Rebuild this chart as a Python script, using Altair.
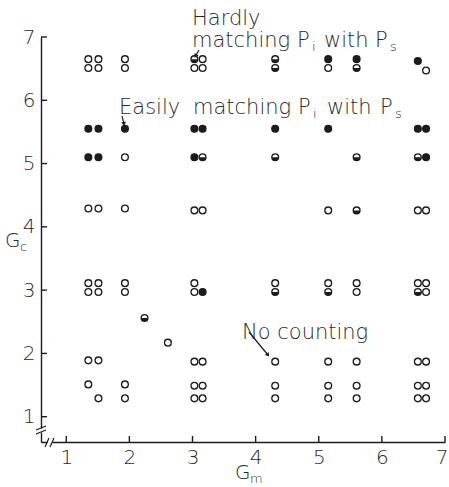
import altair as alt
import pandas as pd

# ---------------- data ----------------
# x position (Gm) of each column of symbols
col_gm = [1.35, 1.51, 1.93, 2.24, 2.61, 3.03, 3.16, 4.31, 5.15, 5.60, 6.57, 6.70]
# Gc values of the symbols in each column
col_gc = [
    [6.65, 6.51, 5.55, 5.10, 4.29, 3.11, 2.97, 1.89, 1.51],
    [6.65, 6.51, 5.55, 5.10, 4.29, 3.11, 2.97, 1.89, 1.29],
    [6.65, 6.51, 5.55, 5.10, 4.29, 3.11, 2.97, 1.51, 1.29],
    [2.56],
    [2.17],
    [6.65, 6.51, 5.55, 5.10, 4.26, 3.11, 2.97, 1.87, 1.49, 1.29],
    [6.65, 6.51, 5.55, 5.10, 4.26, 2.97, 1.87, 1.49, 1.29],
    [6.65, 6.51, 5.55, 5.10, 3.11, 2.97, 1.87, 1.49, 1.29],
    [6.65, 6.51, 5.55, 4.26, 3.11, 2.97, 1.87, 1.49, 1.29],
    [6.65, 6.51, 5.10, 4.26, 3.11, 2.97, 1.87, 1.49, 1.29],
    [6.62, 5.55, 5.10, 4.26, 3.11, 2.97, 1.87, 1.49, 1.29],
    [6.47, 5.55, 5.10, 4.26, 3.11, 2.97, 1.87, 1.49, 1.29],
]
# o = no counting (open), h = hardly matching (half), f = easily matching (filled)
col_kind = [
    ["o", "o", "f", "f", "o", "o", "o", "o", "o"],
    ["o", "o", "f", "f", "o", "o", "o", "o", "o"],
    ["o", "o", "f", "o", "o", "o", "o", "o", "o"],
    ["h"],
    ["o"],
    ["h", "o", "f", "f", "o", "o", "o", "o", "o", "o"],
    ["o", "o", "f", "h", "o", "f", "o", "o", "o"],
    ["h", "h", "f", "h", "o", "h", "o", "o", "o"],
    ["f", "o", "f", "o", "o", "h", "o", "o", "o"],
    ["f", "h", "h", "h", "o", "o", "o", "o", "o"],
    ["f", "f", "h", "o", "o", "h", "o", "o", "o"],
    ["o", "f", "f", "o", "o", "o", "o", "o", "o"],
]
tick_vals = [1, 2, 3, 4, 5, 6, 7]

rows = []
for x, ys_, ks in zip(col_gm, col_gc, col_kind):
    for y, k in zip(ys_, ks):
        rows.append({"Gm": x, "Gc": y, "kind": k})
df = pd.DataFrame(rows)

# ---------------- styling ----------------
FONT = "DejaVu Sans"
WEIGHT = 200
INK = "#1c1c1c"
TXT = "#2a2a2a"
OX, OY = 41, 37          # plot-area origin inside the window
W, H = 404, 405

xs = alt.Scale(domain=[0.6, 7.0], nice=False, zero=False)
ys = alt.Scale(domain=[0.6, 7.0], nice=False, zero=False)

xaxis = alt.Axis(values=tick_vals, title=None, ticks=False, grid=False,
                 domainColor=INK, domainWidth=1.4, labelFont=FONT,
                 labelFontWeight=WEIGHT,
                 labelFontSize=20, labelColor=TXT, labelPadding=5,
                 labelFlush=True, labelFlushOffset=3,
                 labelOverlap=False, format="d")
yaxis = alt.Axis(values=tick_vals, title=None, ticks=False, grid=False,
                 domainColor=INK, domainWidth=1.4, labelFont=FONT,
                 labelFontWeight=WEIGHT,
                 labelFontSize=20, labelColor=TXT, labelPadding=6,
                 labelFlush=False, labelOverlap=False, format="d")

base = alt.Chart(df).encode(
    x=alt.X("Gm:Q", scale=xs, axis=xaxis),
    y=alt.Y("Gc:Q", scale=ys, axis=yaxis),
)

circles = base.mark_point(shape="circle", filled=True, size=46, stroke=INK,
                          strokeWidth=1.3, opacity=1).encode(
    fill=alt.Fill("kind:N", scale=alt.Scale(domain=["o", "h", "f"],
                                            range=["white", "white", INK]),
                  legend=None)
)
halves = base.transform_filter(alt.datum.kind == "h").mark_point(
    shape="M -1 0 A 1 1 0 0 0 1 0 Z", filled=True, fill=INK, size=46,
    strokeWidth=0, opacity=1)

xticks = alt.Chart(pd.DataFrame({"Gm": tick_vals})).mark_rule(
    color=INK, strokeWidth=1.4).encode(
    x=alt.X("Gm:Q", scale=xs, axis=xaxis), y=alt.value(H), y2=alt.value(H - 6))
yticks = alt.Chart(pd.DataFrame({"Gc": tick_vals})).mark_rule(
    color=INK, strokeWidth=1.4).encode(
    y=alt.Y("Gc:Q", scale=ys, axis=yaxis), x=alt.value(0), x2=alt.value(6))

anchor = pd.DataFrame({"a": [0]})


def txt(s, px, py, size=21, align="left"):
    return alt.Chart(anchor).mark_text(
        text=s, font=FONT, fontSize=size, fontWeight=WEIGHT, color=TXT,
        align=align, baseline="alphabetic").encode(
        x=alt.value(px - OX), y=alt.value(py - OY))


def seg(x1, y1, x2, y2, color=INK, width=1.2):
    return alt.Chart(anchor).mark_rule(color=color, strokeWidth=width).encode(
        x=alt.value(x1 - OX), y=alt.value(y1 - OY),
        x2=alt.value(x2 - OX), y2=alt.value(y2 - OY))


def head(px, py, ang):
    return alt.Chart(anchor).mark_point(
        shape="triangle-up", filled=True, color=INK, size=22, opacity=1,
        angle=ang).encode(x=alt.value(px - OX), y=alt.value(py - OY))


labels = [
    txt("Hardly", 192, 25),
    txt("matching", 192, 47), txt("P", 297, 47), txt("i", 312, 51, 13),
    txt("with", 324, 47), txt("P", 375, 47), txt("s", 390, 51, 13),
    txt("Easily", 119, 114),
    txt("matching", 193, 114), txt("P", 298, 114), txt("i", 313, 118, 13),
    txt("with", 327, 114), txt("P", 380, 114), txt("s", 395, 118, 13),
    txt("No counting", 242, 339),
    txt("G", 235, 479, 20), txt("m", 250, 483, 13),
    txt("G", 5, 247, 20), txt("c", 20, 251, 13),
]

arrows = [
    seg(199, 50, 195.5, 56), head(195.5, 56, 212),
    seg(122, 116, 124, 124), head(124, 124, 168),
    seg(249, 332, 268, 355), head(268, 355, 140),
]

breaks = [
    seg(47.5, 442, 52.5, 442, color="white", width=4),
    seg(45, 447, 49, 438), seg(50, 447, 54, 438),
    seg(41, 428.5, 41, 432.5, color="white", width=4),
    seg(36, 430, 46, 426), seg(36, 434, 46, 430),
]

chart = alt.layer(
    xticks, yticks, circles, halves, *breaks, *arrows, *labels
).properties(
    width=W, height=H,
    padding={"left": OX, "top": OY, "right": 4, "bottom": 45},
    autosize=alt.AutoSizeParams(type="none"),
    background="white",
).configure_view(stroke=None)

chart.save("out.html", embed_options={"renderer": "svg", "actions": False})
